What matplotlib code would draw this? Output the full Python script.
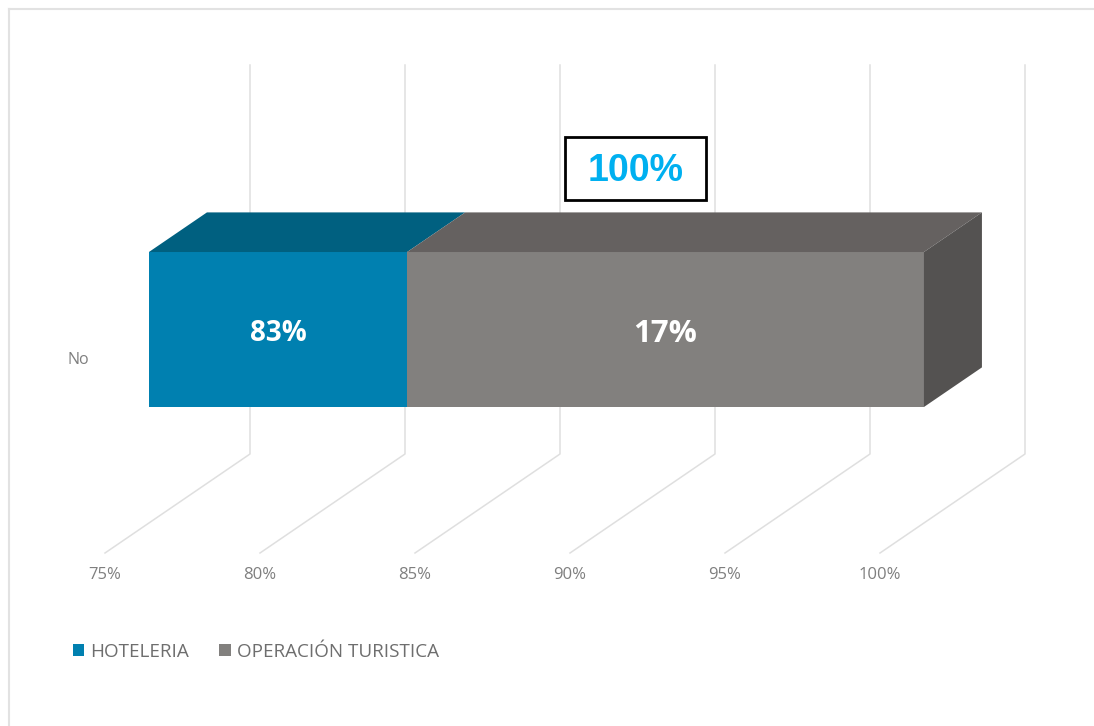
import matplotlib
matplotlib.use("Agg")
import matplotlib.pyplot as plt
from matplotlib.patches import Patch, Polygon, Rectangle

# --- datos ---
categoria = "No"
series = ["HOTELERIA", "OPERACIÓN TURISTICA"]
valores = [83.33, 16.67]
etiquetas = ["83%", "17%"]
ticks = [75, 80, 85, 90, 95, 100]
total_txt = "100%"

# colores: frente, cara superior
AZUL = ("#0080B0", "#006080")
GRIS = ("#82807E", "#656160")
LATERAL = "#545251"
GRID = "#DFDFDF"
TEXTO = "#7F7F7F"

W, H = 1094, 726
PX_POR_PCT = 31.0   # 155 px cada 5%
X0 = 105            # pixel del 75% en el plano frontal
Y_PISO = 553
FONDO_X, FONDO_Y = 145, 99


def punto(pct, prof=0.0, alto=0.0):
    # pct del eje + profundidad (0 a 1) -> coordenadas de los ejes
    x = pct + prof * FONDO_X / PX_POR_PCT
    y = Y_PISO - prof * FONDO_Y - alto
    return x, y


fig = plt.figure(figsize=(W / 100, H / 100), dpi=100)
ax = fig.add_axes([0, 0, 1, 1])
ax.set_xlim(75 - X0 / PX_POR_PCT, 75 + (W - X0) / PX_POR_PCT)
ax.set_ylim(H, 0)
ax.axis("off")

# marco de la imagen
ax.plot([75 - 96 / PX_POR_PCT] * 2, [H, 9], color="#E2E2E2", lw=1.5, zorder=1)
ax.plot([75 - 96 / PX_POR_PCT, 75 + (W - X0) / PX_POR_PCT], [9, 9],
        color="#E2E2E2", lw=1.5, zorder=1)

# rejilla: piso y pared del fondo
for t in ticks:
    x1, y1 = punto(t)
    x2, y2 = punto(t, 1)
    x3, y3 = punto(t, 1, 389)
    ax.plot([x1, x2, x3], [y1, y2, y3], color=GRID, lw=1.1, zorder=2)
    ax.text(t + 0.0, 575, f"{t}%", color=TEXTO, fontsize=12,
            family="Open Sans", ha="center", va="center")

# barra apilada 3D
PROF_A, PROF_B = 0.303, 0.703
BASE, ALTO = 146, 301
acumulado = 0
for valor, colores, etq in zip(valores, [AZUL, GRIS], etiquetas):
    acumulado += valor
    ini = max(acumulado - valor, ticks[0])
    fin = acumulado
    frente = [punto(ini, PROF_A, BASE - 30), punto(fin, PROF_A, BASE - 30),
              punto(fin, PROF_A, ALTO - 30), punto(ini, PROF_A, ALTO - 30)]
    arriba = [punto(ini, PROF_A, ALTO - 30), punto(fin, PROF_A, ALTO - 30),
              punto(fin, PROF_B, ALTO - 30), punto(ini, PROF_B, ALTO - 30)]
    ax.add_patch(Polygon(frente, closed=True, fc=colores[0], ec="none", zorder=3))
    ax.add_patch(Polygon(arriba, closed=True, fc=colores[1], ec="none", zorder=3))
    cx, cy = punto((ini + fin) / 2, PROF_A, (BASE + ALTO) / 2 - 30)
    ax.text(cx, cy + 4, etq, color="white", fontsize=20 if etq == "83%" else 22.5,
            fontweight="bold", family="Open Sans", ha="center", va="center", zorder=5)

lado = [punto(acumulado, PROF_A, BASE - 30), punto(acumulado, PROF_B, BASE - 30),
        punto(acumulado, PROF_B, ALTO - 30), punto(acumulado, PROF_A, ALTO - 30)]
ax.add_patch(Polygon(lado, closed=True, fc=LATERAL, ec="none", zorder=3))

# etiqueta de categoria
ax.text(75 - 38 / PX_POR_PCT, 360, categoria, color=TEXTO, fontsize=11.5,
        family="Open Sans", ha="left", va="center")

# recuadro del total
caja_x = 75 + (565 - X0) / PX_POR_PCT
ax.add_patch(Rectangle((caja_x, 137), 141 / PX_POR_PCT, 63, fc="white",
                       ec="black", lw=2, zorder=6))
ax.text(caja_x + 70.5 / PX_POR_PCT, 171, total_txt, color="#00B0F0", fontsize=27,
        fontweight="bold", family="Liberation Sans", ha="center", va="center", zorder=7)

# leyenda
handles = [Patch(fc=AZUL[0], ec="none"), Patch(fc=GRIS[0], ec="none")]
ax.legend(handles, series, loc="center left", bbox_to_anchor=(73 / W, 1 - 652 / H),
          bbox_transform=fig.transFigure, ncol=2, frameon=False,
          prop={"family": "Open Sans", "size": 13.6}, labelcolor="#6E6E6E",
          handlelength=0.6, handleheight=0.6, handletextpad=0.32, columnspacing=1.6,
          borderpad=0, borderaxespad=0)

fig.savefig("out.png", dpi=100)
